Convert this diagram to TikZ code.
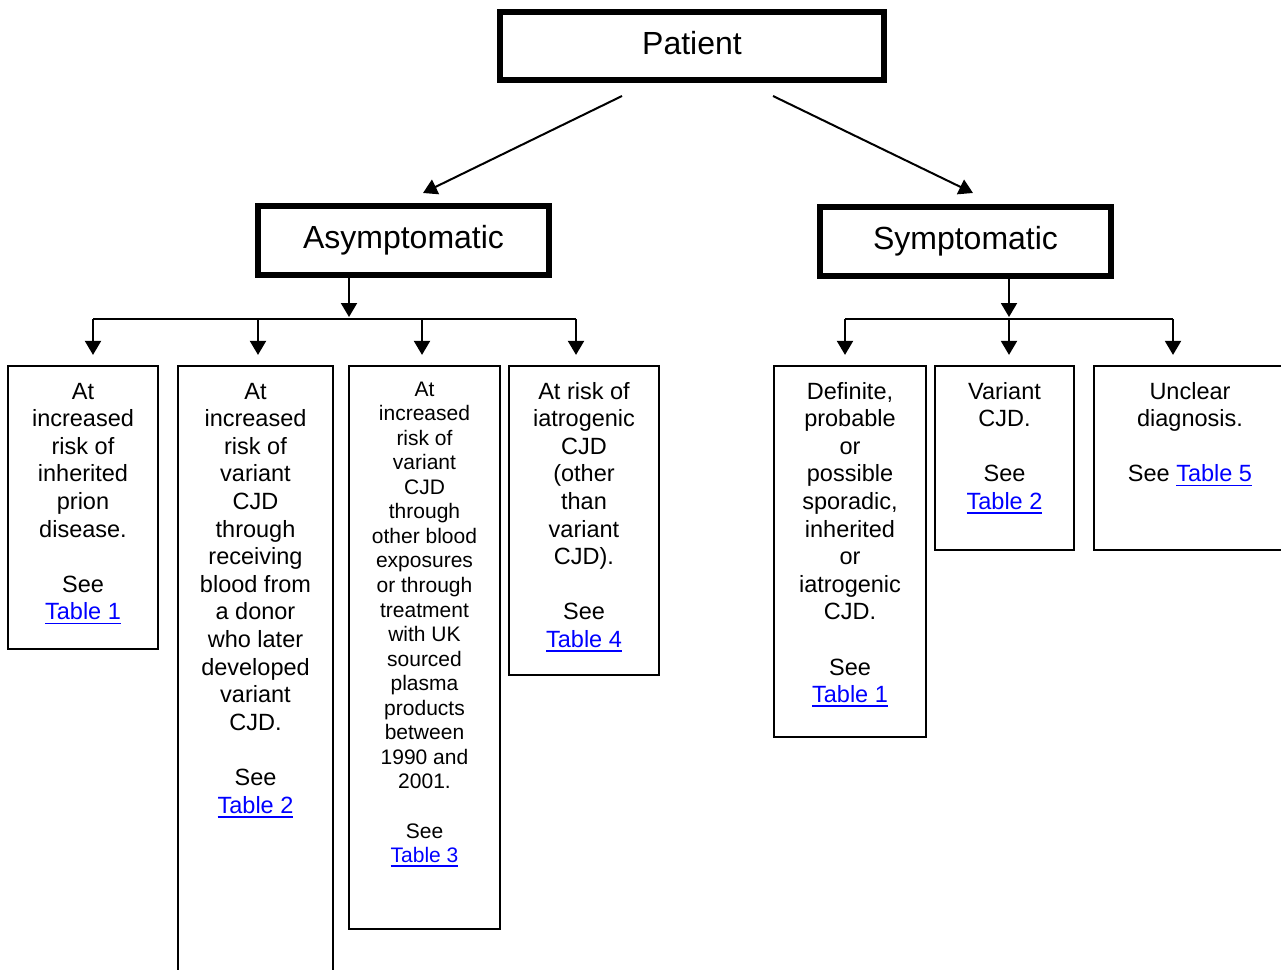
\documentclass[tikz,border=0pt]{standalone}
\usepackage{fontspec}
\setmainfont{Liberation Sans}
\usetikzlibrary{arrows.meta}
\definecolor{linkblue}{RGB}{0,0,255}
\newcommand\lnk[1]{\leavevmode{\color{linkblue}\setbox0\hbox{#1}\rlap{\rule[-4.5pt]{\wd0}{1.8pt}}\box0}}
\newcommand\bodyfont{\fontsize{23.5}{27.6}\selectfont}
\newcommand\smallbodyfont{\fontsize{21}{24.56}\selectfont}
\begin{document}
\begin{tikzpicture}[x=1pt,y=-1pt,
  hdr/.style={draw, line width=6pt, inner sep=0pt, font=\fontsize{32}{38}\selectfont, text height=23pt, text depth=7pt},
  cell/.style={draw, line width=2.2pt, inner sep=0pt},
  txt/.style={inner sep=0pt, anchor=base, font=\bodyfont},
  conn/.style={line width=2pt},
  arr/.style={conn, -{Triangle[width=16pt,length=14pt]}}]
\useasboundingbox (0,0) rectangle (1281,969);

% header boxes
\node[hdr, minimum width=384pt, minimum height=68pt] (patient) at (692,46) {Patient};
\node[hdr, minimum width=291pt, minimum height=69pt] (asym) at (403.5,240.5) {Asymptomatic};
\node[hdr, minimum width=291pt, minimum height=69pt] (sympt) at (965.5,241.5) {Symptomatic};

% leaf boxes
\node[cell, minimum width=150pt, minimum height=283pt] (b1) at (83,507.5) {};
\node[cell, minimum width=155pt, minimum height=624pt] (b2) at (255.5,678) {};
\node[cell, minimum width=151pt, minimum height=563pt] (b3) at (424.5,647.5) {};
\node[cell, minimum width=150pt, minimum height=309pt] (b4) at (584,520.5) {};
\node[cell, minimum width=152pt, minimum height=371pt] (b6) at (850,551.5) {};
\node[cell, minimum width=139pt, minimum height=184pt] (b7) at (1004.5,458) {};
\node[cell, minimum width=196pt, minimum height=184pt] (b8) at (1192,458) {};

% texts
\node[txt] (t1) at (83,399) {\parbox[t]{150pt}{\centering At\\increased\\risk of\\inherited\\prion\\disease.\\[27.6pt]See\\\lnk{Table 1}}};
\node[txt] (t2) at (255.5,399) {\parbox[t]{155pt}{\centering At\\increased\\risk of\\variant\\CJD\\through\\receiving\\blood from\\a donor\\who later\\developed\\variant\\CJD.\\[27.6pt]See\\\lnk{Table 2}}};
\node[txt, font=\smallbodyfont] (t3) at (424.5,396) {\parbox[t]{151pt}{\centering At\\increased\\risk of\\variant\\CJD\\through\\other blood\\exposures\\or through\\treatment\\with UK\\sourced\\plasma\\products\\between\\1990 and\\2001.\\[24.56pt]See\\\lnk{Table 3}}};
\node[txt] (t4) at (584,399) {\parbox[t]{150pt}{\centering At risk of\\iatrogenic\\CJD\\(other\\than\\variant\\CJD).\\[27.6pt]See\\\lnk{Table 4}}};
\node[txt] (t6) at (850,399) {\parbox[t]{152pt}{\centering Definite,\\probable\\or\\possible\\sporadic,\\inherited\\or\\iatrogenic\\CJD.\\[27.6pt]See\\\lnk{Table 1}}};
\node[txt] (t7) at (1004.5,399) {\parbox[t]{139pt}{\centering Variant\\CJD.\\[27.6pt]See\\\lnk{Table 2}}};
\node[txt] (t8) at (1190,399) {\parbox[t]{190pt}{\centering Unclear\\diagnosis.\\[27.6pt]See \lnk{Table 5}}};

% connectors from patient
\coordinate (pl1) at (622,96);
\coordinate (pl2) at (423,193);
\coordinate (pr1) at (773,96);
\coordinate (pr2) at (973,193);
\draw[arr] (pl1) -- (pl2);
\draw[arr] (pr1) -- (pr2);

% asymptomatic branch
\coordinate (aT) at (349,317);
\coordinate (a1) at (93,319);
\coordinate (a2) at (258,319);
\coordinate (a3) at (422,319);
\coordinate (a4) at (576,319);
\draw[arr] (asym.south -| aT) -- (aT);
\draw[conn] (a1) -- (a4);
\draw[arr, shorten >=10pt] (a1) -- (a1 |- b1.north);
\draw[arr, shorten >=10pt] (a2) -- (a2 |- b2.north);
\draw[arr, shorten >=10pt] (a3) -- (a3 |- b3.north);
\draw[arr, shorten >=10pt] (a4) -- (a4 |- b4.north);

% symptomatic branch
\coordinate (sT) at (1009,317);
\coordinate (s1) at (845,319);
\coordinate (s2) at (1009,319);
\coordinate (s3) at (1173,319);
\draw[arr] (sympt.south -| sT) -- (sT);
\draw[conn] (s1) -- (s3);
\draw[arr, shorten >=10pt] (s1) -- (s1 |- b6.north);
\draw[arr, shorten >=10pt] (s2) -- (s2 |- b7.north);
\draw[arr, shorten >=10pt] (s3) -- (s3 |- b8.north);
\end{tikzpicture}
\end{document}
